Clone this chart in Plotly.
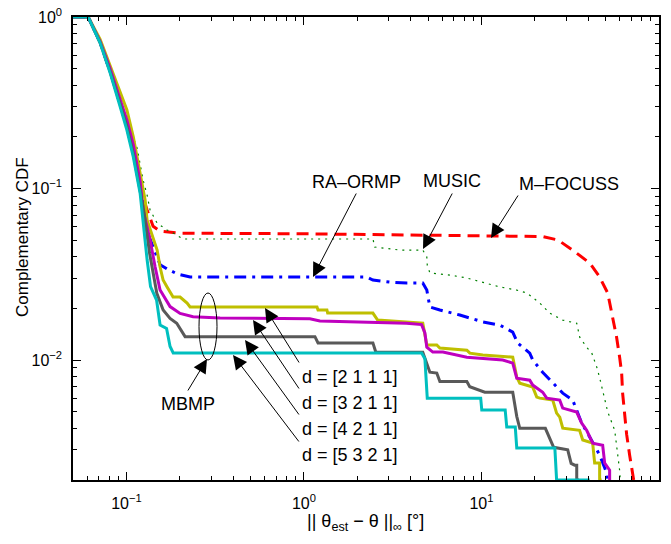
import plotly.graph_objects as go

# ---------------- data ----------------
mfocuss_x = [0.05, 0.0609, 0.0711, 0.081, 0.0922, 0.1006, 0.1093, 0.1194, 0.1308, 0.1413, 0.1547, 0.1761,
             0.2005, 1.0, 5.0, 22.1, 27.0, 32.6, 40.7, 46.3, 51.4, 54.8, 57.7, 60.0, 61.6, 62.4, 64.0, 65.7,
             68.3, 71.0, 72.0]
mfocuss_y = [1, 1, 0.71, 0.48, 0.31, 0.228, 0.16, 0.10, 0.075, 0.0603, 0.0564, 0.0557,
             0.0549, 0.0545, 0.0535, 0.0525, 0.0501, 0.0438, 0.0368, 0.0305, 0.0246, 0.0178, 0.0136, 0.0104,
             0.0084, 0.0064, 0.0048, 0.0037, 0.0028, 0.00215, 0.002]

music_x = [0.05, 0.0609, 0.0711, 0.081, 0.0922, 0.1006, 0.1149, 0.1241, 0.1307, 0.1359, 0.1489, 0.1694,
           0.1831, 0.2085, 2.45, 2.5, 3.47, 4.67, 4.92, 4.95, 5.12, 6.63, 8.27, 10.17, 12.68, 15.8, 18.0,
           21.3, 24.2, 28.7, 34.4, 35.75, 39.1, 41.8, 44.6, 46.3, 48.2, 51.4, 56.3, 58.5, 60.0, 60.5]
music_y = [1, 1, 0.72, 0.50, 0.33, 0.25, 0.172, 0.112, 0.0917, 0.0749, 0.0629, 0.0573,
           0.0551, 0.0508, 0.0508, 0.0456, 0.0438, 0.0438, 0.0399, 0.0358, 0.0322, 0.0313, 0.0301, 0.0285,
           0.0267, 0.0256, 0.0246, 0.0215, 0.0188, 0.0171, 0.0164, 0.0136, 0.0119, 0.011, 0.0091, 0.0079,
           0.0067, 0.005, 0.0039, 0.0029, 0.00228, 0.002]

raormp_x = [0.05, 0.0609, 0.0711, 0.081, 0.0922, 0.1006, 0.1093, 0.1194, 0.1274, 0.1308, 0.1489, 0.1547,
            0.1694, 0.1929, 0.2283, 2.26, 2.445, 3.05, 3.8, 4.67, 4.92, 5.12, 5.83, 7.55, 10.17, 12.68, 15.0,
            16.0, 18.7, 19.44, 22.1, 25.2, 28.7, 32.65, 34.84, 36.7, 40.7, 46.3, 50.7, 51.2]
raormp_y = [1, 1, 0.71, 0.48, 0.31, 0.228, 0.16, 0.10, 0.072, 0.056, 0.040, 0.036,
            0.034, 0.0318, 0.0305, 0.0305, 0.0293, 0.0285, 0.0281, 0.0281, 0.0256, 0.0204, 0.0196, 0.0183,
            0.0167, 0.0160, 0.01456, 0.01257, 0.01098, 0.0100, 0.0085, 0.00734, 0.00642, 0.00585, 0.00498,
            0.00429, 0.00356, 0.0028, 0.0022, 0.002]

d2111_x = [0.05, 0.0609, 0.0711, 0.081, 0.0922, 0.1006, 0.1093, 0.1194, 0.1274, 0.1307, 0.1413, 0.1489,
           0.1547, 0.1609, 0.1694, 0.1831, 0.2005, 0.2196, 0.2283, 1.184, 1.2, 1.347, 1.36, 2.445, 2.6,
           4.67, 4.92, 5.6, 5.83, 8.27, 8.6, 10.17, 15.0, 15.8, 16.43, 19.44, 20.48, 21.3, 25.2, 26.5,
           27.6, 28.7, 35.7, 37.2, 42.3, 43.4, 46.3, 46.3, 47.5]
d2111_y = [1, 1, 0.74, 0.52, 0.36, 0.287, 0.20, 0.125, 0.0857, 0.0655, 0.0524, 0.0438,
           0.0349, 0.0293, 0.0267, 0.0233, 0.0233, 0.0215, 0.0204, 0.0204, 0.0196, 0.0196, 0.0188, 0.0188,
           0.0171, 0.0164, 0.01224, 0.01224, 0.01175, 0.01143, 0.01098, 0.0107, 0.0104, 0.00796, 0.00734,
           0.00696, 0.00608, 0.006, 0.00585, 0.00491, 0.00465, 0.00401, 0.0039, 0.00342, 0.00328, 0.00251,
           0.00251, 0.002, 0.002]

d3211_x = [0.05, 0.0609, 0.0711, 0.081, 0.0922, 0.1006, 0.1093, 0.1194, 0.1241, 0.1359, 0.145, 0.1547,
           0.1761, 0.2005, 0.2373, 0.3368, 1.08, 1.23, 3.78, 4.6, 4.8, 4.92, 5.32, 6.06, 8.27, 13.18, 15.0,
           15.8, 18.7, 19.44, 22.13, 23.31, 27.58, 28.68, 34.4, 36.69, 39.13, 42.31, 48.16, 49.43, 52.72,
           52.72, 53.5]
d3211_y = [1, 1, 0.72, 0.50, 0.33, 0.25, 0.18, 0.11, 0.0749, 0.0501, 0.035, 0.0256,
           0.0205, 0.0187, 0.0179, 0.0176, 0.0174, 0.0169, 0.0164, 0.0161, 0.0144, 0.0119, 0.01113, 0.01113,
           0.0104, 0.0100, 0.0096, 0.00785, 0.00764, 0.00715, 0.0065, 0.006, 0.00585, 0.00525, 0.00498,
           0.00429, 0.0039, 0.00328, 0.00319, 0.00251, 0.00228, 0.002, 0.002]

d4211_x = [0.05, 0.0609, 0.0711, 0.081, 0.0922, 0.1006, 0.1093, 0.1194, 0.125, 0.135, 0.1483, 0.161,
           0.1761, 0.192, 0.214, 1.153, 1.2, 2.445, 2.54, 4.67, 4.92, 5.12, 5.6, 5.83, 8.27, 8.59, 10.44,
           15.0, 15.8, 16.43, 22.9, 24.2, 25.5, 30.6, 32.0, 33.5, 34.4, 34.4, 35.5]
d4211_y = [1, 1, 0.71, 0.48, 0.31, 0.23, 0.16, 0.10, 0.075, 0.042, 0.0245, 0.0196,
           0.0175, 0.0164, 0.0137, 0.0137, 0.0126, 0.0126, 0.0111, 0.0111, 0.0096, 0.0085, 0.0084, 0.0075,
           0.0075, 0.0070, 0.0065, 0.0065, 0.0047, 0.0040, 0.0040, 0.0035, 0.0031, 0.0030, 0.0025, 0.00244,
           0.00244, 0.002, 0.002]

d5321_x = [0.05, 0.0609, 0.0711, 0.081, 0.0922, 0.1006, 0.1093, 0.1194, 0.1308, 0.1367, 0.1478, 0.1547,
           0.1683, 0.1761, 0.1834, 4.6, 4.8, 4.95, 9.9, 10.04, 13.6, 13.88, 15.5, 15.8, 25.9, 26.5, 40.7]
d5321_y = [1, 1, 0.705, 0.471, 0.299, 0.219, 0.153, 0.094, 0.0383, 0.0268, 0.0224, 0.016,
           0.0153, 0.012, 0.011, 0.011, 0.0102, 0.006, 0.006, 0.00511, 0.00511, 0.00407, 0.00407, 0.00307,
           0.00307, 0.002, 0.002]

x_tick_vals = [0.1, 1, 10, 100]
x_tick_text = ["10<sup>\u22121</sup>", "10<sup>0</sup>", "10<sup>1</sup>", "10<sup>2</sup>"]
y_tick_vals = [0.01, 0.1, 1]
y_tick_text = ["10<sup>\u22122</sup>", "10<sup>\u22121</sup>", "10<sup>0</sup>"]

# ---------------- figure ----------------
FONT = "Liberation Sans, Arial, Helvetica, sans-serif"
fig = go.Figure()

series = [
    (mfocuss_x, mfocuss_y, "M-FOCUSS", "#ff0000", 3, "12px,7px"),
    (music_x, music_y, "MUSIC", "#008000", 1.2, "2px,5px"),
    (raormp_x, raormp_y, "RA-ORMP", "#0000ff", 3, "12px,6px,3px,6px"),
    (d2111_x, d2111_y, "d = [2 1 1 1]", "#bfbf00", 3, "solid"),
    (d3211_x, d3211_y, "d = [3 2 1 1]", "#bf00bf", 3, "solid"),
    (d4211_x, d4211_y, "d = [4 2 1 1]", "#595959", 3, "solid"),
    (d5321_x, d5321_y, "d = [5 3 2 1]", "#00bfbf", 3, "solid"),
]
for xs, ys, name, col, w, dash in series:
    fig.add_trace(go.Scatter(x=xs, y=ys, mode="lines", name=name,
                             line=dict(color=col, width=w, dash=dash)))

L, R, T, B = 73, 12, 17, 64
W, H = 671, 544
PW, PH = W - L - R, H - T - B


def px_x(px):
    return (px - L) / PW


def px_y(py):
    return (H - B - py) / PH


annotations = []
labels = [
    ("RA\u2013ORMP", 356, 182),
    ("MUSIC", 452, 181),
    ("M\u2013FOCUSS", 569, 184),
    ("MBMP", 188, 404),
    ("d = [2 1 1 1]", 350, 377),
    ("d = [3 2 1 1]", 350, 403),
    ("d = [4 2 1 1]", 350, 429),
    ("d = [5 3 2 1]", 350, 455),
]
for txt, cx, cy in labels:
    annotations.append(dict(text=txt, x=px_x(cx), y=px_y(cy), xref="paper", yref="paper",
                            showarrow=False, xanchor="center", yanchor="middle",
                            font=dict(family=FONT, size=18, color="black")))
arrows = [
    ((357, 192), (313, 277)),
    ((453, 192), (423, 249)),
    ((519, 194), (491, 238)),
    ((187, 392), (207, 359)),
    ((300, 364), (265, 308)),
    ((300, 390), (253, 320)),
    ((300, 416), (245, 340)),
    ((300, 443), (233, 355)),
]
for (tx, ty), (hx, hy) in arrows:
    annotations.append(dict(text="", x=px_x(hx), y=px_y(hy), xref="paper", yref="paper",
                            ax=tx - hx, ay=ty - hy, showarrow=True, arrowhead=2,
                            arrowsize=2.8, arrowwidth=1, arrowcolor="black", standoff=0))
annotations.append(dict(text="Complementary CDF", x=px_x(22), y=px_y(237), xref="paper", yref="paper",
                        showarrow=False, textangle=-90, xanchor="center", yanchor="middle",
                        font=dict(family=FONT, size=17, color="black")))
annotations.append(dict(text="|| \u03b8<sub>est</sub> \u2212 \u03b8 ||<sub>\u221e</sub> [\u00b0]",
                        x=px_x(365), y=px_y(522), xref="paper", yref="paper",
                        showarrow=False, xanchor="center", yanchor="middle",
                        font=dict(family=FONT, size=18, color="black")))

x_minor = [v * m for v in (0.01, 0.1, 1, 10) for m in range(2, 10) if 0.05 <= v * m <= 100]
y_minor = [v * m for v in (0.001, 0.01, 0.1) for m in range(2, 10) if v * m >= 0.002]

axis_common = dict(type="log", showgrid=False, zeroline=False, showline=True, linecolor="black",
                   linewidth=1.5, mirror="allticks", ticks="inside", ticklen=8, tickwidth=1,
                   tickcolor="black", automargin=False,
                   tickfont=dict(family=FONT, size=16, color="black"))

fig.update_layout(
    width=W, height=H,
    margin=dict(l=L, r=R, t=T, b=B, pad=0, autoexpand=False),
    paper_bgcolor="white", plot_bgcolor="white",
    showlegend=False,
    font=dict(family=FONT, color="black"),
    xaxis=dict(range=[-1.30103, 2], tickmode="array", tickvals=x_tick_vals, ticktext=x_tick_text,
               minor=dict(tickmode="array", tickvals=x_minor, ticks="inside", ticklen=4,
                          tickcolor="black", tickwidth=1),
               ticklabelstandoff=8, **axis_common),
    yaxis=dict(range=[-2.69897, 0], tickmode="array", tickvals=y_tick_vals, ticktext=y_tick_text,
               minor=dict(tickmode="array", tickvals=y_minor, ticks="inside", ticklen=4,
                          tickcolor="black", tickwidth=1),
               ticklabelstandoff=6, **axis_common),
    annotations=annotations,
    shapes=[dict(type="circle", xref="paper", yref="paper", x0=px_x(199), x1=px_x(217),
                 y0=px_y(360), y1=px_y(293), line=dict(color="black", width=1))],
)

fig.write_html("out.html", config={"displayModeBar": False},
               post_script="document.body.style.margin='0';")
